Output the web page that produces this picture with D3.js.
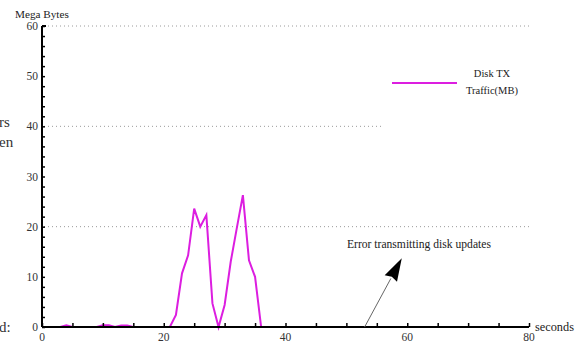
<!DOCTYPE html>
<html><head><meta charset="utf-8">
<script src="https://cdn.jsdelivr.net/npm/d3@7"></script>
<style>html,body{margin:0;padding:0;background:#fff;}svg{display:block;}</style>
</head><body>
<svg id="c" width="579" height="344"></svg>
<script>
const seconds = [0,1,2,3,4,5,6,7,8,9,10,11,12,13,14,15,16,17,18,19,20,21,22,23,24,25,26,27,28,29,30,31,32,33,34,35,36];
const diskTX  = [0,0,0,0,0.35,0,0,0,0,0,0.35,0.35,0,0.3,0.3,0,0,0,0,0,0,0,2.4,10.7,14.3,23.6,20,22.3,4.7,0,4.4,13,19.7,26.3,13.3,10,0];
const xTicks = [0,20,40,60,80];
const yTicks = [0,10,20,30,40,50,60];
const gridValues = [20,40,60];
const seriesName = ["Disk TX","Traffic(MB)"];
const annotationText = "Error transmitting disk updates";

const font = "'Liberation Serif', 'DejaVu Serif', serif";
const svg = d3.select("#c");
const x = d3.scaleLinear().domain([0,80]).range([42,529]);
const y = d3.scaleLinear().domain([0,60]).range([327,26]);

// gridlines
svg.append("g").selectAll("line").data(gridValues).join("line")
  .attr("x1", x(0)+2).attr("x2", x(80)).attr("y1", d=>y(d)).attr("y2", d=>y(d))
  .attr("stroke", "#9a9a9a").attr("stroke-width", 1).attr("stroke-dasharray", "1,3");

// series line
const line = d3.line().x((d,i)=>x(seconds[i])).y(d=>y(d));
svg.append("path").datum(diskTX).attr("d", line)
  .attr("fill","none").attr("stroke","#dc1ee0").attr("stroke-width",2).attr("stroke-linejoin","miter");

// axes
const xAxis = d3.axisTop(x).tickValues(d3.range(0,81,5)).tickSize(4).tickFormat("");
const gx = svg.append("g").attr("transform",`translate(0,${y(0)})`).call(xAxis);
gx.select(".domain").attr("stroke","#000").attr("stroke-width",2).attr("d",`M${x(0)},0H${x(80)}`);
gx.selectAll(".tick line").attr("stroke","#000").attr("stroke-width",1.5);

const yAxis = d3.axisRight(y).tickValues(d3.range(0,61,2)).tickSize(3).tickFormat("");
const gy = svg.append("g").attr("transform",`translate(${x(0)},0)`).call(yAxis);
gy.select(".domain").attr("stroke","#000").attr("stroke-width",2).attr("d",`M0,${y(0)}V${y(60)}`);
gy.selectAll(".tick line").attr("stroke","#000").attr("stroke-width",1.5);
svg.append("line").attr("x1",x(0)).attr("x2",x(0)+4).attr("y1",y(60)).attr("y2",y(60)).attr("stroke","#000").attr("stroke-width",2);

// tick labels
svg.append("g").selectAll("text").data(xTicks).join("text")
  .attr("x", d=>x(d)).attr("y", 341).attr("text-anchor","middle")
  .attr("font-family",font).attr("font-size",11.5).attr("fill","#333").text(d=>d);
svg.append("g").selectAll("text").data(yTicks).join("text")
  .attr("x", 38).attr("y", d=>y(d)+4).attr("text-anchor","end")
  .attr("font-family",font).attr("font-size",11.5).attr("fill","#333").text(d=>d);

// axis titles
svg.append("text").attr("x",15).attr("y",18).attr("font-family",font).attr("font-size",11.2).attr("fill","#222").text("Mega Bytes");
svg.append("text").attr("x",535).attr("y",331).attr("font-family",font).attr("font-size",12.3).attr("fill","#222").text("seconds");

// legend (white background hides gridline)
const lg = svg.append("g");
lg.append("rect").attr("x",381).attr("y",40).attr("width",190).attr("height",95).attr("fill","#fff");
lg.append("line").attr("x1",392).attr("x2",457).attr("y1",83).attr("y2",83).attr("stroke","#dc1ee0").attr("stroke-width",2);
lg.selectAll("text").data(seriesName).join("text")
  .attr("x",492).attr("y",(d,i)=>77+i*17).attr("text-anchor","middle")
  .attr("font-family",font).attr("font-size",10.5).attr("fill","#222").text(d=>d);

// annotation
const ax0 = 53.0, ay0 = 0, ax1 = 59.1, ay1 = 13.7;
const px0 = x(ax0), py0 = y(ay0), px1 = x(ax1), py1 = y(ay1);
const ang = Math.atan2(py1-py0, px1-px0);
const headLen = 23, headW = 7;
const bx = px1 - headLen*Math.cos(ang), by = py1 - headLen*Math.sin(ang);
svg.append("line").attr("x1",px0).attr("y1",py0).attr("x2",bx).attr("y2",by).attr("stroke","#666").attr("stroke-width",1);
const nx = -Math.sin(ang), ny = Math.cos(ang);
svg.append("path").attr("d",`M${px1},${py1}L${bx+nx*headW},${by+ny*headW}L${bx+2*Math.cos(ang)},${by+2*Math.sin(ang)}L${bx-nx*headW},${by-ny*headW}Z`).attr("fill","#000");
svg.append("text").attr("x",x(50.1)).attr("y",y(15.7)).attr("font-family",font).attr("font-size",11.6).attr("fill","#222").text(annotationText);

// clipped text fragments at left edge
const frag = [["rs",127],["en",147],["d:",332]];
svg.append("g").selectAll("text").data(frag).join("text")
  .attr("x",-1).attr("y",d=>d[1]).attr("font-family",font).attr("font-size",15).attr("fill","#333").text(d=>d[0]);
</script>
</body></html>
